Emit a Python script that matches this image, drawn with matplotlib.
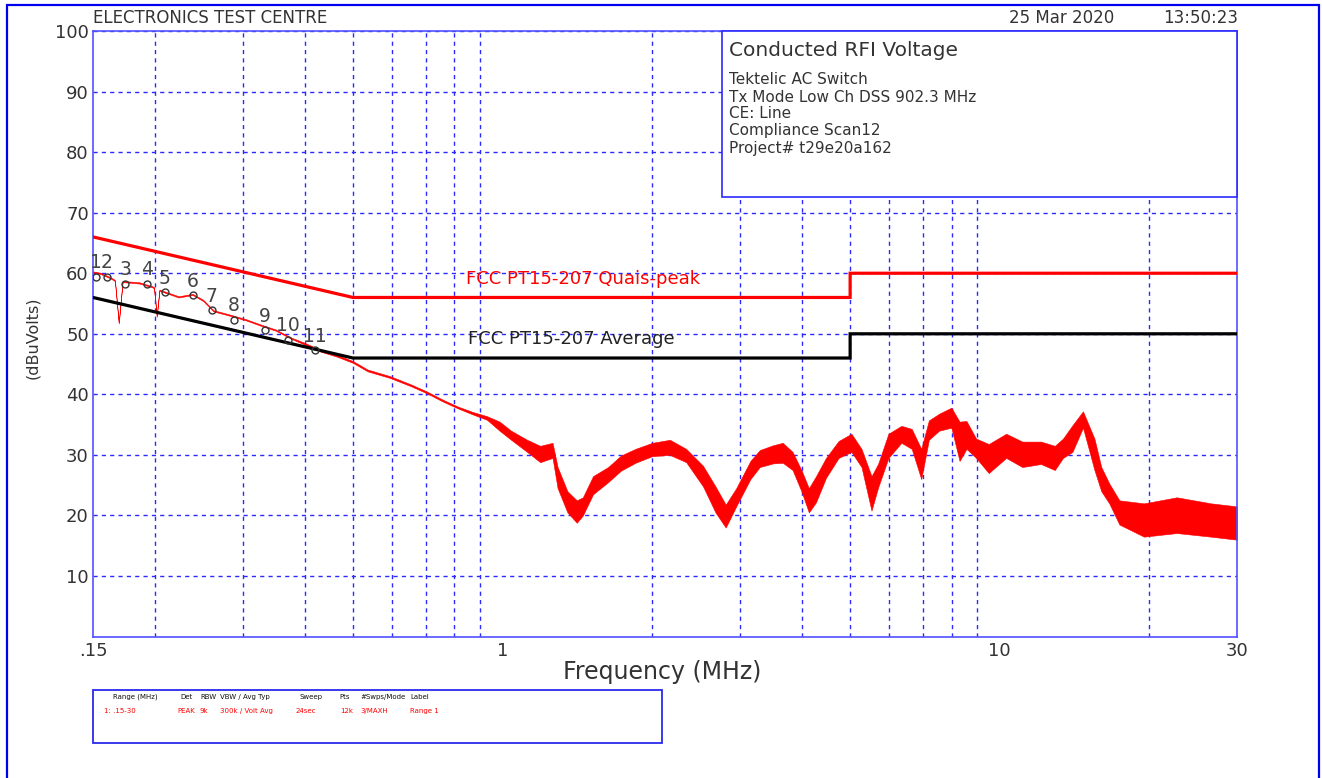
import matplotlib
matplotlib.use("Agg")
import matplotlib.pyplot as plt
from matplotlib.patches import Rectangle

# ---------------- data ----------------
y_ticks = [10, 20, 30, 40, 50, 60, 70, 80, 90, 100]
x_ticks = [0.15, 1, 10, 30]
x_tick_labels = [".15", "1", "10", "30"]
x_grid = [0.2, 0.3, 0.4, 0.5, 0.6, 0.7, 0.8, 0.9, 1, 2, 3, 4, 5, 6, 7, 8, 9, 10, 20]

# FCC Part 15.207 limits
qp_freq = [0.15, 0.5, 5.0, 5.0, 30.0]
qp_level = [66, 56, 56, 60, 60]
avg_freq = [0.15, 0.5, 5.0, 5.0, 30.0]
avg_level = [56, 46, 46, 50, 50]

# measured peak trace (lower / upper envelope, dBuV)
trace_freq = [0.150, 0.155, 0.160, 0.163, 0.166, 0.169, 0.172, 0.174, 0.186, 0.193,
              0.197, 0.199, 0.2015, 0.204, 0.209, 0.223, 0.238, 0.250, 0.262, 0.285,
              0.305, 0.327, 0.350, 0.375, 0.400, 0.429, 0.465, 0.500, 0.535, 0.594,
              0.656, 0.703, 0.759, 0.812, 0.870, 0.930, 0.986, 1.04, 1.12, 1.19,
              1.26, 1.29, 1.35, 1.41, 1.45, 1.52, 1.63, 1.73, 1.85, 2.00,
              2.17, 2.34, 2.53, 2.68, 2.81, 2.95, 3.15, 3.29, 3.50, 3.66,
              3.83, 3.99, 4.13, 4.27, 4.47, 4.74, 5.03, 5.27, 5.52, 5.69,
              5.97, 6.34, 6.65, 6.95, 7.20, 7.55, 7.99, 8.30, 8.57, 8.96,
              9.50, 10.3, 11.1, 12.1, 12.9, 13.4, 14.0, 14.7, 15.5, 16.0,
              16.6, 17.4, 19.5, 22.7, 26.6, 30.0]
trace_lo = [60.1, 59.9, 59.4, 59.1, 58.7, 51.7, 58.5, 58.5, 58.3, 57.9,
            57.7, 57.5, 52.8, 57.1, 56.8, 56.0, 56.4, 55.4, 53.7, 52.9,
            52.2, 51.3, 50.5, 49.2, 48.2, 47.1, 46.2, 45.2, 43.8, 42.7,
            41.3, 40.2, 38.8, 37.7, 36.7, 35.8, 34.0, 32.5, 30.5, 28.8,
            29.5, 24.5, 20.5, 18.8, 20.0, 23.5, 25.5, 27.4, 28.7, 29.8,
            30.0, 28.8, 24.8, 20.5, 18.0, 21.5, 26.0, 28.0, 28.6, 28.7,
            27.5, 24.0, 20.5, 22.2, 26.2, 29.5, 30.5, 28.0, 20.8, 24.6,
            29.5, 32.0, 31.0, 26.0, 32.5, 34.0, 34.5, 29.0, 31.0, 29.5,
            27.0, 29.5, 28.0, 28.5, 27.5, 29.5, 30.5, 34.5, 27.5, 24.0,
            22.0, 18.5, 16.5, 17.1, 16.5, 16.0]
trace_hi = [60.3, 60.1, 59.6, 59.3, 58.9, 51.9, 58.7, 58.7, 58.5, 58.1,
            57.9, 57.7, 53.0, 57.3, 57.0, 56.2, 56.6, 55.6, 53.9, 53.1,
            52.4, 51.5, 50.7, 49.4, 48.5, 47.4, 46.5, 45.5, 44.1, 43.0,
            41.6, 40.5, 39.1, 38.0, 37.1, 36.4, 35.5, 34.0, 32.5, 31.5,
            32.0, 28.0, 24.0, 22.5, 23.0, 26.5, 28.0, 29.9, 31.0, 32.0,
            32.5, 31.0, 28.2, 24.8, 21.8, 24.5, 29.0, 30.8, 31.6, 32.0,
            30.5, 27.5, 24.5, 26.5, 29.5, 32.3, 33.5, 31.0, 26.5, 28.5,
            33.5, 34.8, 34.3, 31.0, 35.7, 36.8, 37.8, 35.5, 35.6, 32.7,
            31.8, 33.5, 32.2, 32.2, 31.5, 32.7, 34.9, 37.2, 32.7, 28.0,
            25.3, 22.5, 22.0, 23.0, 22.0, 21.5]

# markers
marker_freq = [0.152, 0.160, 0.174, 0.193, 0.209, 0.238, 0.260, 0.288, 0.333, 0.370, 0.419]
marker_level = [59.4, 59.4, 58.3, 58.3, 56.9, 56.4, 53.9, 52.3, 50.6, 49.0, 47.3]
marker_labels = ["1", "2", "3", "4", "5", "6", "7", "8", "9", "10", "11"]

info_title = "Conducted RFI Voltage"
info_lines = ["Tektelic AC Switch", "Tx Mode Low Ch DSS 902.3 MHz", "CE: Line",
              "Compliance Scan12", "Project# t29e20a162"]

table_header = ["Range (MHz)", "Det", "RBW", "VBW / Avg Typ", "Sweep", "Pts", "#Swps/Mode", "Label"]
table_row = ["1: .15-30", "PEAK", "9k", "300k / Volt Avg", "24sec", "12k", "3/MAXH", "Range 1"]

# ---------------- figure ----------------
W, H = 1322, 778
fig = plt.figure(figsize=(W / 100, H / 100), dpi=100)
fig.patch.set_facecolor("white")


def px(x, y):
    return (x / W, 1 - y / H)


ax = fig.add_axes([93 / W, 1 - 636.6 / H, 1144 / W, 605.6 / H])
ax.set_xscale("log")
ax.set_xlim(0.15, 30)
ax.set_ylim(0, 100)

TXT = "#333333"
BLUE = "#2a2aff"

ax.set_xticks(x_ticks)
ax.set_xticklabels(x_tick_labels)
ax.set_xticks(x_grid, minor=True)
ax.xaxis.set_minor_formatter(plt.NullFormatter())
ax.set_yticks(y_ticks)
ax.set_yticklabels([str(v) for v in y_ticks])
ax.tick_params(axis="both", which="both", length=0, colors=TXT, labelsize=13)
ax.tick_params(axis="x", pad=4)
ax.tick_params(axis="y", pad=3)
for lab in ax.get_xticklabels() + ax.get_yticklabels():
    lab.set_color(TXT)

ax.grid(False, which="major", axis="x")
ax.grid(True, which="minor", axis="x", color=BLUE, linestyle=(0, (3, 3)), linewidth=1.0)
ax.grid(True, which="major", axis="y", color=BLUE, linestyle=(0, (3, 3)), linewidth=1.0)
ax.set_axisbelow(True)
for s in ax.spines.values():
    s.set_color("#5050ff")
    s.set_linewidth(1.2)

# trace
ax.fill_between(trace_freq, trace_lo, trace_hi, color="#ff0000", lw=0.4,
                edgecolor="#ff0000", zorder=2)

# limit lines
ax.plot(qp_freq, qp_level, color="#ff0000", lw=2.3, zorder=3, solid_joinstyle="miter")
ax.plot(avg_freq, avg_level, color="#000000", lw=2.3, zorder=3, solid_joinstyle="miter")
ax.text(0.845, 59.0, "FCC PT15-207 Quais-peak", color="#ff0000", fontsize=13,
        va="center", ha="left", zorder=4)
ax.text(0.852, 49.1, "FCC PT15-207 Average", color="#222222", fontsize=13,
        va="center", ha="left", zorder=4)

# markers
ax.plot(marker_freq, marker_level, linestyle="none", marker="o", markersize=5,
        markerfacecolor="none", markeredgecolor="#333333", mew=1.0, zorder=5)
for f, v, lab in zip(marker_freq, marker_level, marker_labels):
    ax.annotate(lab, (f, v), xytext=(0, 14), textcoords="offset pixels",
                ha="center", va="center", fontsize=13.5, color="#444444", zorder=6)

# info box
ax.add_patch(Rectangle((629 / 1144, (636.6 - 197) / 605.6), 515 / 1144, 1 - (636.6 - 197) / 605.6,
                       transform=ax.transAxes, facecolor="white", edgecolor=BLUE,
                       lw=1.2, zorder=7, clip_on=False))
fig.text(*px(729, 50), info_title, fontsize=14.5, color=TXT, va="center", ha="left", zorder=10)
for i, line in enumerate(info_lines):
    fig.text(*px(729, 80 + i * 17), line, fontsize=11, color=TXT, va="center", ha="left", zorder=10)

# header
fig.text(*px(93, 18), "ELECTRONICS TEST CENTRE", fontsize=12, color=TXT, va="center", ha="left")
fig.text(*px(1114, 18), "25 Mar 2020", fontsize=12, color=TXT, va="center", ha="right")
fig.text(*px(1238, 18), "13:50:23", fontsize=12, color=TXT, va="center", ha="right")

# axis labels
fig.text(*px(33, 338), "(dBuVolts)", fontsize=11.5, color=TXT, rotation=90, va="center", ha="center")
fig.text(*px(662, 672), "Frequency (MHz)", fontsize=17, color=TXT, va="center", ha="center")

# outer border
fig.add_artist(Rectangle((7 / W, -0.05), (1319 - 7) / W, 1 - 5 / H + 0.05,
                         transform=fig.transFigure, fill=False, edgecolor="#0000ee", lw=1.6))

# bottom table box
fig.add_artist(Rectangle(px(93, 743), (662 - 93) / W, (743 - 690) / H,
                         transform=fig.transFigure, fill=False, edgecolor="#2a2aee", lw=1.3))
hdr_x = [113, 180, 200, 220, 300, 339, 360, 410]
row_x = [104, 177, 200, 220, 296, 340, 360, 410]
tfam = ["Liberation Sans Narrow", "DejaVu Sans"]
for x, t in zip(hdr_x, table_header):
    fig.text(*px(x, 697), t, fontsize=5.0, color="#111111", va="center", ha="left", family=tfam)
for x, t in zip(row_x, table_row):
    fig.text(*px(x, 711), t, fontsize=5.0, color="#ff0000", va="center", ha="left", family=tfam)

fig.savefig("out.png", dpi=100, facecolor="white")
